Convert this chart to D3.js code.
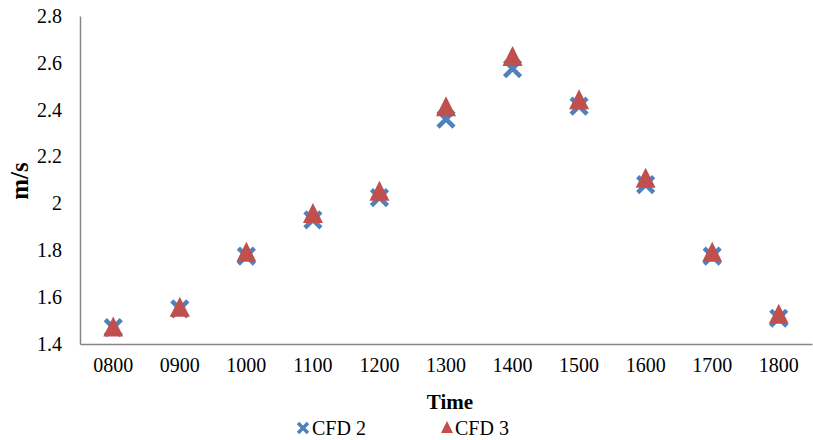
<!DOCTYPE html>
<html>
<head>
<meta charset="utf-8">
<script src="https://cdn.jsdelivr.net/npm/d3@7"></script>
<style>
  body { margin: 0; background: #fff; }
  text { font-family: "Liberation Serif", "Times New Roman", serif; }
</style>
</head>
<body>
<div id="chart"></div>
<script>
const times = ["0800", "0900", "1000", "1100", "1200", "1300", "1400", "1500", "1600", "1700", "1800"];
const cfd2 = [1.47, 1.55, 1.775, 1.93, 2.025, 2.36, 2.575, 2.415, 2.08, 1.775, 1.51];
const cfd3 = [1.47, 1.555, 1.79, 1.955, 2.05, 2.41, 2.625, 2.44, 2.105, 1.79, 1.525];
const yTicks = [1.4, 1.6, 1.8, 2, 2.2, 2.4, 2.6, 2.8];

const W = 813, H = 440;
const margin = {top: 16, right: 1, bottom: 96, left: 80};
const width = W - margin.left - margin.right,
      height = H - margin.top - margin.bottom;

const svg = d3.select("#chart")
  .append("svg")
    .attr("width", W)
    .attr("height", H);

const g = svg.append("g")
  .attr("transform", "translate(" + margin.left + "," + margin.top + ")");

const x = d3.scaleBand()
  .domain(times)
  .range([0, width]);

const y = d3.scaleLinear()
  .domain([1.4, 2.8])
  .range([height, 0]);

// y axis
const yAxis = g.append("g")
  .call(d3.axisLeft(y).tickValues(yTicks).tickSize(0).tickPadding(18).tickFormat(d3.format("")));
yAxis.select(".domain").attr("stroke", "#868686").attr("stroke-width", 1.5);
yAxis.selectAll("text").attr("font-size", 20).attr("fill", "#000")
  .style("font-family", "'Liberation Serif', serif");

// x axis
const xAxis = g.append("g")
  .attr("transform", "translate(0," + height + ")")
  .call(d3.axisBottom(x).tickSize(0).tickPadding(14));
xAxis.select(".domain").attr("stroke", "#868686").attr("stroke-width", 1.5);
xAxis.selectAll("text").attr("font-size", 20).attr("fill", "#000")
  .style("font-family", "'Liberation Serif', serif");

const cx = d => x(d) + x.bandwidth() / 2;
const crossPath = "M-8,-8L8,8M-8,8L8,-8";
const triPath = "M0,-11L10,9L-10,9Z";

// CFD 2 crosses
g.append("g")
  .selectAll("path")
  .data(times)
  .enter()
  .append("path")
    .attr("d", crossPath)
    .attr("transform", (d, i) => "translate(" + cx(d) + "," + y(cfd2[i]) + ")")
    .attr("stroke", "#4F81BD")
    .attr("stroke-width", 4.5)
    .attr("fill", "none");

// CFD 3 triangles
g.append("g")
  .selectAll("path")
  .data(times)
  .enter()
  .append("path")
    .attr("d", triPath)
    .attr("transform", (d, i) => "translate(" + cx(d) + "," + y(cfd3[i]) + ")")
    .attr("fill", "#C0504D");

// axis titles
svg.append("text")
  .attr("text-anchor", "middle")
  .attr("x", 450)
  .attr("y", 409)
  .attr("font-size", 21)
  .attr("font-weight", "bold")
  .text("Time");

svg.append("text")
  .attr("text-anchor", "middle")
  .attr("transform", "translate(28,181) rotate(-90)")
  .attr("font-size", 25)
  .attr("font-weight", "bold")
  .text("m/s");

// legend
const legend = svg.append("g").attr("transform", "translate(0,428)");
legend.append("path")
  .attr("d", "M-5,-5L5,5M-5,5L5,-5")
  .attr("transform", "translate(303,0)")
  .attr("stroke", "#4F81BD")
  .attr("stroke-width", 3.5);
legend.append("text")
  .attr("x", 312)
  .attr("y", 7)
  .attr("font-size", 20)
  .text("CFD 2");
legend.append("path")
  .attr("d", "M0,-7L6,5L-6,5Z")
  .attr("transform", "translate(447,0)")
  .attr("fill", "#C0504D");
legend.append("text")
  .attr("x", 455)
  .attr("y", 7)
  .attr("font-size", 20)
  .text("CFD 3");
</script>
</body>
</html>
